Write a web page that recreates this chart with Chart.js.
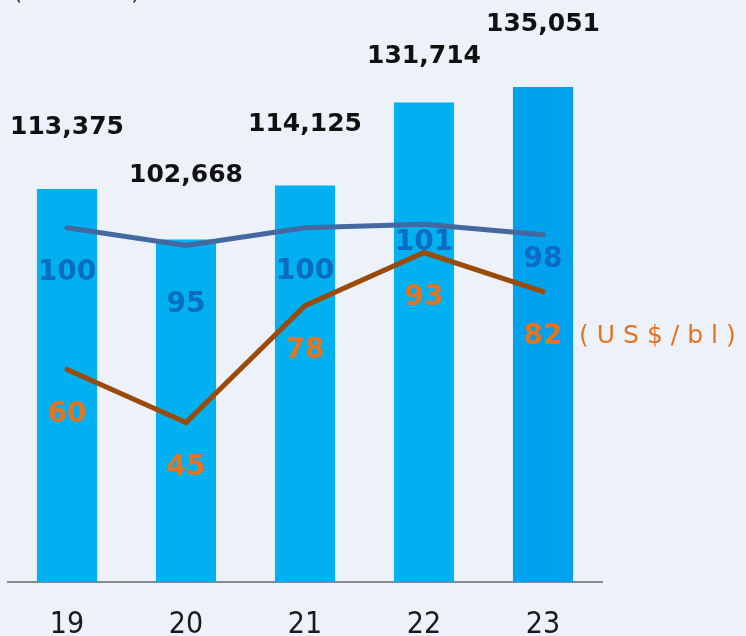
<!DOCTYPE html>
<html>
<head>
<meta charset="utf-8">
<script src="https://cdn.jsdelivr.net/npm/chart.js@4.4.1/dist/chart.umd.min.js"></script>
<style>
  html, body { margin: 0; padding: 0; background: #edf1fa; }
  canvas { display: block; }
</style>
</head>
<body>
<canvas id="combo-chart" width="746" height="636"></canvas>
<script>
// ---------------------------------------------------
// DATA
// ---------------------------------------------------
const years = [ '19', '20', '21', '22', '23' ];
const volumes = [ 113375, 102668, 114125, 131714, 135051 ];
const indexValues = [ 100, 95, 100, 101, 98 ];
const oilPrices = [ 60, 45, 78, 93, 82 ];
const priceUnit = '(US$/bl)';
// ---------------------------------------------------
// label placement (px), per column
const barLabelGap = [ 55, 58, 55, 40, 56 ];
const indexLabelDrop = [ 45, 59, 44, 19, 25 ];
const priceLabelDrop = 45;
// ---------------------------------------------------
const barColors = [ '#00b0f0', '#00b0f0', '#00b0f0', '#00b0f0', '#00a1ee' ];

const backgroundPlugin = {
    id: 'background',
    beforeDraw: function ( chart ) {
        const ctx = chart.ctx;
        ctx.save();
        ctx.fillStyle = '#edf1fa';
        ctx.fillRect( 0, 0, chart.width, chart.height );
        // unit label cut at the top edge
        ctx.fillStyle = '#333';
        ctx.font = '24px "DejaVu Sans"';
        ctx.textBaseline = 'alphabetic';
        ctx.fillText( '(', 13, -1 );
        ctx.fillText( ')', 131, -1 );
        ctx.restore();
    }
};

const labelPlugin = {
    id: 'valueLabels',
    afterDatasetsDraw: function ( chart ) {
        const ctx = chart.ctx;
        ctx.save();
        ctx.textAlign = 'center';

        // bar totals
        ctx.font = 'bold 25px "DejaVu Sans"';
        ctx.fillStyle = '#111111';
        ctx.textBaseline = 'alphabetic';
        chart.getDatasetMeta( 0 ).data.forEach( function ( bar, i ) {
            ctx.fillText( volumes[ i ].toLocaleString( 'en-US' ), bar.x, bar.y - barLabelGap[ i ] );
        });

        // index line
        ctx.font = 'bold 28px "DejaVu Sans"';
        ctx.textBaseline = 'middle';
        ctx.fillStyle = '#0a6dc2';
        chart.getDatasetMeta( 1 ).data.forEach( function ( pt, i ) {
            ctx.fillText( String( indexValues[ i ] ), pt.x, pt.y + indexLabelDrop[ i ] );
        });

        // oil price line
        ctx.fillStyle = '#e6731e';
        const priceMeta = chart.getDatasetMeta( 2 );
        priceMeta.data.forEach( function ( pt, i ) {
            ctx.fillText( String( oilPrices[ i ] ), pt.x, pt.y + priceLabelDrop );
        });

        // unit next to last price label
        const last = priceMeta.data[ priceMeta.data.length - 1 ];
        ctx.font = '25px "DejaVu Sans"';
        ctx.textAlign = 'left';
        ctx.letterSpacing = '8px';
        ctx.fillText( priceUnit, last.x + 36, last.y + priceLabelDrop );
        ctx.restore();
    }
};

const chart = new Chart( document.getElementById( 'combo-chart' ), {
    type: 'bar',
    data: {
        labels: years,
        datasets: [
            {
                type: 'bar',
                data: volumes,
                backgroundColor: barColors,
                yAxisID: 'y',
                categoryPercentage: 1,
                barPercentage: 0.505,
                order: 3
            },
            {
                type: 'line',
                data: indexValues,
                borderColor: '#44689f',
                borderWidth: 5,
                borderCapStyle: 'round',
                pointRadius: 0,
                tension: 0,
                yAxisID: 'y2',
                order: 2
            },
            {
                type: 'line',
                data: oilPrices,
                borderColor: '#9b4a08',
                borderWidth: 5,
                borderCapStyle: 'round',
                pointRadius: 0,
                tension: 0,
                yAxisID: 'y2',
                order: 1
            }
        ]
    },
    options: {
        responsive: false,
        animation: false,
        devicePixelRatio: 1,
        layout: { padding: { left: 7.5, right: 143.5, top: 40, bottom: 0 } },
        plugins: {
            legend: { display: false },
            tooltip: { enabled: false }
        },
        scales: {
            x: {
                grid: { display: false },
                border: { color: '#8a8a8a', width: 2 },
                ticks: {
                    color: '#1a1a1a',
                    padding: 17,
                    font: { family: '"Liberation Sans Narrow", "DejaVu Sans Condensed", sans-serif', size: 30 }
                },
                afterFit: function ( scale ) { scale.height = 54; }
            },
            y: { display: false, min: 30000, max: 145000 },
            y2: { display: false, min: 0, max: 153 }
        }
    },
    plugins: [ backgroundPlugin, labelPlugin ]
});
</script>
</body>
</html>
